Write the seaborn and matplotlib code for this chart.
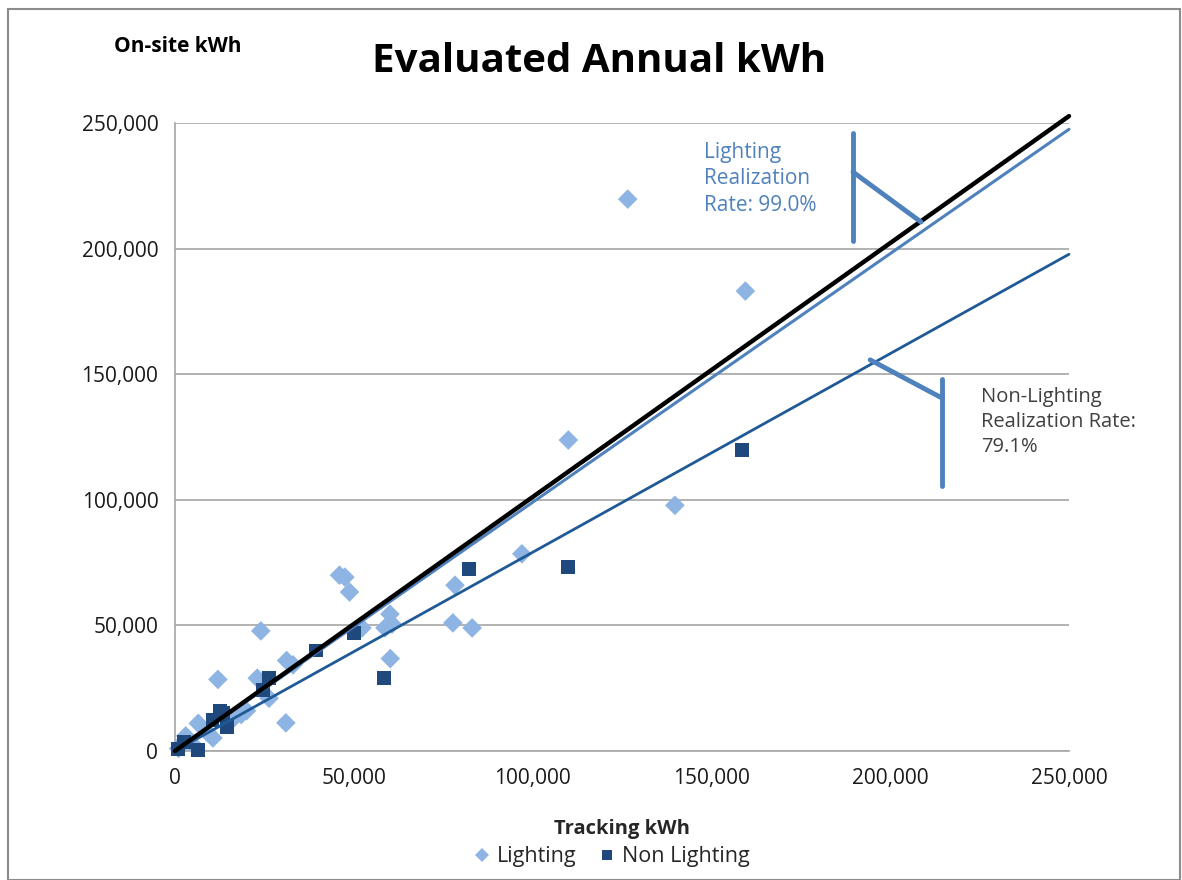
import matplotlib
matplotlib.use("Agg")
import matplotlib.pyplot as plt
import seaborn as sns
import pandas as pd
import numpy as np
from matplotlib.patches import Rectangle
from matplotlib.ticker import FuncFormatter

# ---- data (thousands of kWh) ----
lighting_x = [1.0, 2.0, 3.0, 5.0, 6.5, 9.0, 10.6, 12.0, 16.0, 18.5, 20.0, 23.0, 24.0, 26.3,
              31.0, 31.2, 33.0, 46.0, 47.5, 48.8, 52.3, 58.7, 60.1, 60.7, 60.2, 77.7, 78.3,
              83.1, 97.0, 110.0, 139.8, 126.6, 159.5]
lighting_y = [1.0, 3.0, 6.0, 2.5, 11.0, 7.5, 5.2, 28.5, 12.5, 14.5, 16.0, 29.0, 47.8, 21.0,
              11.2, 36.0, 34.3, 70.0, 69.2, 63.3, 49.0, 49.0, 54.5, 50.5, 36.8, 51.0, 66.0,
              49.0, 78.5, 123.8, 97.8, 219.7, 183.1]
nonlight_x = [0.8, 2.5, 6.5, 10.5, 12.5, 13.5, 14.5, 24.6, 26.3, 39.4, 50.0, 58.4, 82.2, 109.9, 158.6]
nonlight_y = [0.8, 3.5, 0.5, 12.5, 16.0, 15.0, 9.6, 24.3, 29.0, 40.0, 47.0, 29.1, 72.5, 73.2, 119.8]

slope_all = 1.011
slope_lighting = 0.990
slope_nonlighting = 0.791

ticks = [0, 50000, 100000, 150000, 200000, 250000]

df = pd.DataFrame({
    "Tracking": np.array(lighting_x + nonlight_x) * 1000,
    "OnSite": np.array(lighting_y + nonlight_y) * 1000,
    "Type": ["Lighting"] * len(lighting_x) + ["Non Lighting"] * len(nonlight_x),
})

sns.set_theme(style="white")
plt.rcParams["font.family"] = ["Open Sans", "DejaVu Sans"]

fig = plt.figure(figsize=(11.82, 8.8), dpi=100)
ax = fig.add_axes([175/1182, 1 - 751/880, (1069-175)/1182, (751-123)/880])

palette = {"Lighting": "#8DB4E2", "Non Lighting": "#1F497D"}
markers = {"Lighting": "D", "Non Lighting": "s"}
sns.scatterplot(data=df, x="Tracking", y="OnSite", hue="Type", style="Type",
                palette=palette, markers=markers, s=100, linewidth=0, ax=ax, zorder=3,
                clip_on=False)

xs = np.array([0, 250000])
ax.plot(xs, slope_nonlighting * xs, color="#1F5A96", lw=2.0, zorder=4, clip_on=False)
ax.plot(xs, slope_lighting * xs, color="#4F81BD", lw=2.2, zorder=4, clip_on=False)
ax.plot(xs, slope_all * xs, color="black", lw=3.2, zorder=5, clip_on=False)

ax.set_xticks(ticks)
ax.set_yticks(ticks)
fmt = FuncFormatter(lambda v, p: f"{int(v):,}")
ax.xaxis.set_major_formatter(fmt)
ax.yaxis.set_major_formatter(fmt)
ax.tick_params(axis="both", labelsize=15, labelcolor="#1a1a1a", length=6, width=1,
               direction="out", pad=6, color="#A6A6A6")
ax.set_xlim(0, 250000)
ax.set_ylim(0, 250000)
for sp in ["top", "right"]:
    ax.spines[sp].set_visible(False)
for sp in ["left", "bottom"]:
    ax.spines[sp].set_color("#A6A6A6")
    ax.spines[sp].set_linewidth(1.2)
ax.yaxis.grid(True, color="#A6A6A6", lw=1.2)
ax.xaxis.grid(False)
ax.set_axisbelow(True)
ax.set_xlabel("Tracking kWh", fontsize=14.5, fontweight="bold", labelpad=22)
ax.set_ylabel("")

sns.move_legend(ax, "upper center", bbox_to_anchor=(0.487, -0.128), ncol=2, title=None,
                frameon=False, fontsize=15.5, handletextpad=0.2, columnspacing=0.9,
                handlelength=1.0, markerscale=0.7, borderpad=0.2)

# titles
fig.text(599/1182, 1 - 62/880, "Evaluated Annual kWh", ha="center", va="center",
         fontsize=29, fontweight="bold", color="black")
fig.text(178/1182, 1 - 46/880, "On-site kWh", ha="center", va="center",
         fontsize=15, fontweight="bold", color="black")

# annotations
ann_col = "#4F81BD"
ax.plot([189600, 189600], [203000, 246000], color=ann_col, lw=3.5, clip_on=False, zorder=6)
ax.plot([189600, 208600], [230500, 210600], color=ann_col, lw=3.5, clip_on=False, zorder=6)
ax.text(147900, 242500, "Lighting\nRealization\nRate: 99.0%", color=ann_col,
        fontsize=15, va="top", ha="left", linespacing=1.35)

ax.plot([214500, 214500], [105500, 148100], color=ann_col, lw=3.5, clip_on=False, zorder=6)
ax.plot([194400, 214500], [155700, 140500], color=ann_col, lw=3.5, clip_on=False, zorder=6)
ax.text(225400, 145000, "Non-Lighting\nRealization Rate:\n79.1%", color="#404040",
        fontsize=14.5, va="top", ha="left", linespacing=1.35, clip_on=False)

# outer border
fig.patches.append(Rectangle((8/1182, 0), 1 - 10/1182, 1 - 9/880, transform=fig.transFigure,
                             fill=False, edgecolor="#8C8C8C", lw=1.5))

fig.savefig("out.png", dpi=100)
